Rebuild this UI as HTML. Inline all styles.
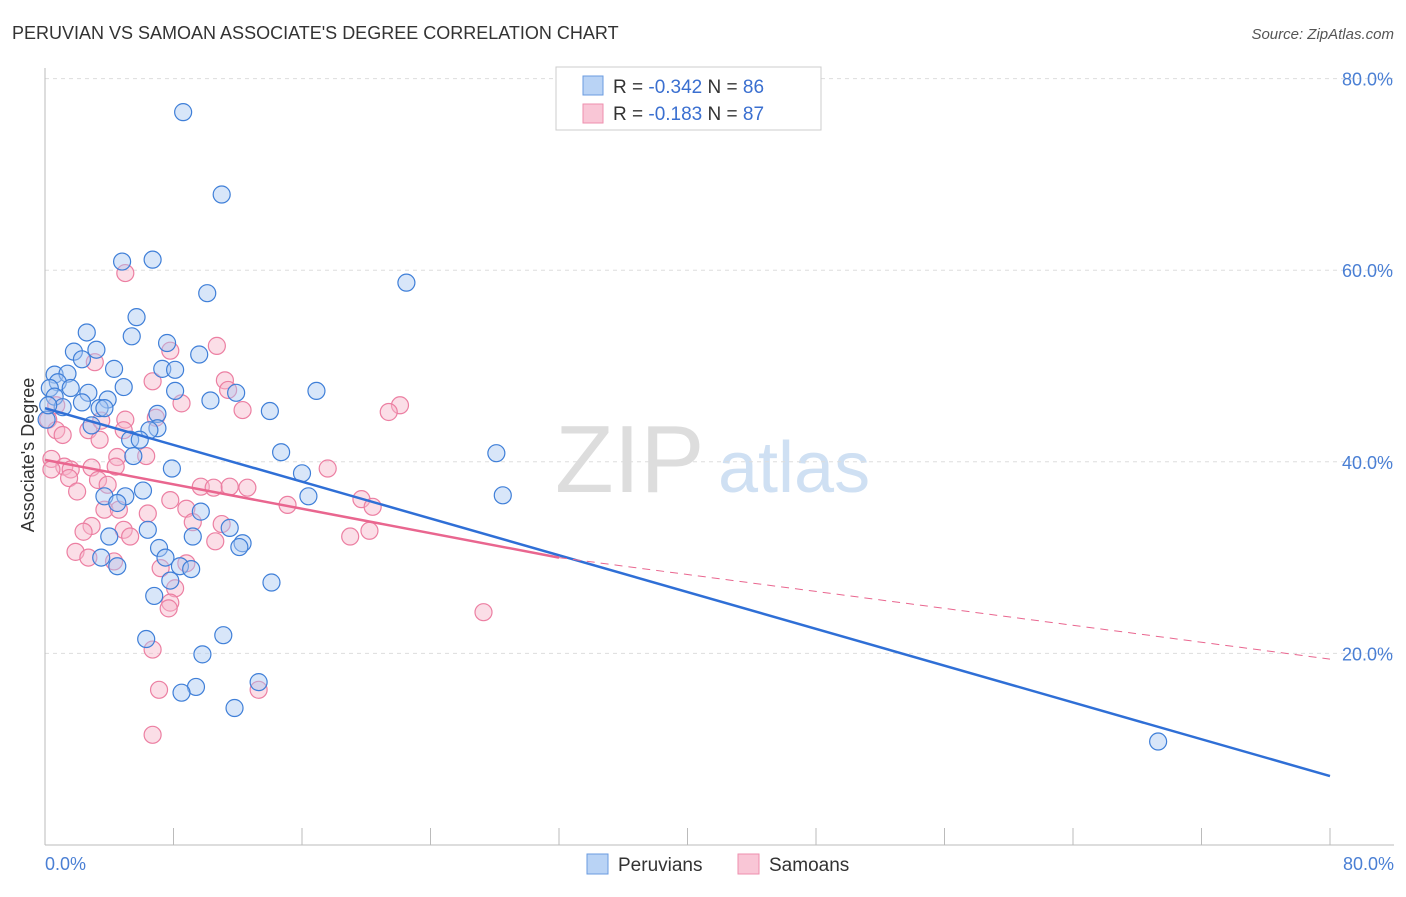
<!DOCTYPE html>
<html><head><meta charset="utf-8"><style>
body{margin:0;background:#fff;font-family:"Liberation Sans",sans-serif}
svg text{font-family:"Liberation Sans",sans-serif}
</style></head><body>
<svg width="1406" height="892" id="chart">
<text x="12" y="39" font-size="18" fill="#333">PERUVIAN VS SAMOAN ASSOCIATE'S DEGREE CORRELATION CHART</text>
<text x="1394" y="39" font-size="15" fill="#555" text-anchor="end" font-style="italic">Source: ZipAtlas.com</text>
<text x="555" y="492" font-size="96" fill="#ddd" font-family="Liberation Serif">ZIP</text>
<text x="718" y="492" font-size="72" fill="#cfe0f3">atlas</text>
<g id="grid"></g><g id="axes"></g><g id="pts"></g><g id="lines"></g>
<text transform="translate(34,455) rotate(-90)" font-size="18" fill="#333" text-anchor="middle">Associate's Degree</text>
<text x="45" y="870" font-size="18" fill="#4a7fd4">0.0%</text>
<text x="1394" y="870" font-size="18" fill="#4a7fd4" text-anchor="end">80.0%</text>
<g>
<rect x="556" y="67" width="265" height="63" fill="#fff" stroke="#ccc"/>
<rect x="583" y="76" width="20" height="19" fill="#b9d3f5" stroke="#6a9be0"/>
<rect x="583" y="104" width="20" height="19" fill="#f9c6d6" stroke="#ee8fae"/>
<text x="613" y="93" font-size="19" fill="#333">R = <tspan fill="#3a6fd0">-0.342</tspan>   N = <tspan fill="#3a6fd0">86</tspan></text>
<text x="613" y="120" font-size="19" fill="#333">R =  <tspan fill="#3a6fd0">-0.183</tspan>   N = <tspan fill="#3a6fd0">87</tspan></text>
</g>
<g>
<rect x="587" y="854" width="21" height="20" fill="#b9d3f5" stroke="#6a9be0"/>
<text x="618" y="871" font-size="19" fill="#333">Peruvians</text>
<rect x="738" y="854" width="21" height="20" fill="#f9c6d6" stroke="#ee8fae"/>
<text x="769" y="871" font-size="19" fill="#333">Samoans</text>
</g>
</svg>
<script>
const yTicks=[20,40,60,80];
const xTickVals=[0,8,16,24,32,40,48,56,64,72,80];
const peruX=[8.6,11.0,4.8,6.7,10.1,22.5,5.7,2.6,5.4,7.6,1.8,3.2,9.6,2.3,4.3,7.3,8.1,0.6,1.4,0.8,0.3,4.9,1.6,2.7,8.1,11.9,16.9,0.6,3.9,2.3,10.3,1.1,3.4,3.7,14.0,7.0,2.9,7.0,6.5,5.3,5.9,14.7,28.1,5.5,7.9,16.0,16.4,28.5,6.1,3.7,5.0,4.5,9.7,6.4,11.5,4.0,9.2,12.3,12.1,7.1,7.5,3.5,4.5,8.4,9.1,7.8,14.1,6.8,11.1,6.3,9.8,13.3,9.4,8.5,11.8,69.3,0.1,0.2];
const peruY=[76.5,67.9,60.9,61.1,57.6,58.7,55.1,53.5,53.1,52.4,51.5,51.7,51.2,50.7,49.7,49.7,49.6,49.1,49.2,48.3,47.7,47.8,47.7,47.2,47.4,47.2,47.4,46.8,46.5,46.2,46.4,45.7,45.6,45.6,45.3,45.0,43.8,43.5,43.3,42.3,42.3,41.0,40.9,40.6,39.3,38.8,36.4,36.5,37.0,36.4,36.4,35.7,34.8,32.9,33.1,32.2,32.2,31.5,31.1,31.0,30.0,30.0,29.1,29.1,28.8,27.6,27.4,26.0,21.9,21.5,19.9,17.0,16.5,15.9,14.3,10.8,44.4,45.9];
const samoX=[5.0,10.7,7.8,3.1,6.7,11.2,11.4,8.5,22.1,21.4,12.3,0.7,0.2,0.7,1.1,2.7,3.5,5.0,6.9,4.9,3.4,6.3,4.5,0.4,1.2,0.4,1.6,2.9,4.4,1.5,3.3,3.9,17.6,9.7,10.5,11.5,12.6,2.0,7.8,19.7,20.4,15.1,3.7,6.4,4.6,8.8,9.2,11.0,2.9,4.9,20.2,2.4,19.0,5.3,10.6,1.9,2.7,4.3,8.8,7.2,8.1,7.8,7.7,27.3,6.7,7.1,13.3,6.7];
const samoY=[59.7,52.1,51.6,50.4,48.4,48.5,47.5,46.1,45.9,45.2,45.4,45.9,44.4,43.3,42.8,43.3,44.3,44.4,44.6,43.3,42.3,40.6,40.5,40.3,39.5,39.2,39.2,39.4,39.5,38.3,38.1,37.6,39.3,37.4,37.3,37.4,37.3,36.9,36.0,36.1,35.3,35.5,35.0,34.6,35.0,35.1,33.7,33.5,33.3,32.9,32.8,32.7,32.2,32.2,31.7,30.6,30.0,29.6,29.4,28.9,26.8,25.3,24.7,24.3,20.4,16.2,16.2,11.5];
const peruFit=[45.6,7.2];
const samoFit=[40.2,32.0,30.0,19.4];
const NS='http://www.w3.org/2000/svg';
const X=v=>45+v/80*1285, Y=v=>845-v/20*191.6;
function mk(t,a,p){const e=document.createElementNS(NS,t);for(const k in a)e.setAttribute(k,a[k]);document.getElementById(p).appendChild(e);return e;}
yTicks.forEach(t=>{
 const l=mk('line',{x1:45,x2:1394,y1:Y(t),y2:Y(t),stroke:'#ddd','stroke-dasharray':'4,4'},'grid');
 
 
 const tx=mk('text',{x:1393,y:Y(t)+7,'font-size':18,fill:'#4a7fd4','text-anchor':'end'},'grid');
 tx.textContent=t.toFixed(1)+'%';
 
 
});
const ax=mk('line',{x1:45,x2:45,y1:68,y2:845,stroke:'#bbb'},'axes');


const bx=mk('line',{x1:45,x2:1394,y1:845,y2:845,stroke:'#bbb'},'axes');


xTickVals.forEach(t=>{
 const l=mk('line',{x1:X(t),x2:X(t),y1:828,y2:845,stroke:'#bbb'},'axes');
 
 
});
function dots(xs,ys,fill,stroke,name){xs.forEach((v,i)=>{
 const c=mk('circle',{cx:X(v),cy:Y(ys[i]),r:8.5,fill:fill,'fill-opacity':0.45,stroke:stroke,'stroke-width':1.2},'pts');
 
 
});}
dots(samoX,samoY,'#f7b6ca','#ec7fa2','samoan-point');
dots(peruX,peruY,'#a9c8f2','#3f7fd8','peruvian-point');
const b=mk('line',{x1:X(0),y1:Y(peruFit[0]),x2:X(80),y2:Y(peruFit[1]),stroke:'#2f6fd6','stroke-width':2.5},'lines');


const p=mk('line',{x1:X(0),y1:Y(samoFit[0]),x2:X(samoFit[1]),y2:Y(samoFit[2]),stroke:'#e9668f','stroke-width':2.5},'lines');


const pd=mk('line',{x1:X(samoFit[1]),y1:Y(samoFit[2]),x2:X(80),y2:Y(samoFit[3]),stroke:'#e9668f','stroke-width':1,'stroke-dasharray':'8,6'},'lines');


</script>
</body></html>
